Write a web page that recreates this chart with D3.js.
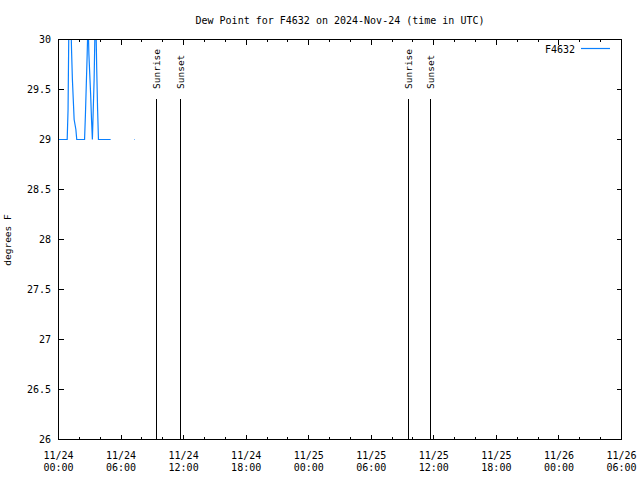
<!DOCTYPE html>
<html><head><meta charset="utf-8">
<script src="https://cdn.jsdelivr.net/npm/d3@7"></script>
<style>body{margin:0;background:#fff}svg{display:block}</style>
</head><body>
<script>
const chartTitle = "Dew Point for F4632 on 2024-Nov-24 (time in UTC)";
const seriesName = "F4632";
const yAxisLabel = "degrees F";
const xDomain = ["2024-11-24T00:00", "2024-11-26T06:00"];
const yDomain = [26, 30];
const yTicks = [26, 26.5, 27, 27.5, 28, 28.5, 29, 29.5, 30];
const yTickLabels = ["26", "26.5", "27", "27.5", "28", "28.5", "29", "29.5", "30"];
const dewTimes = [
  "2024-11-24T00:00", "2024-11-24T00:50", "2024-11-24T00:55", "2024-11-24T01:00",
  "2024-11-24T01:05", "2024-11-24T01:10", "2024-11-24T01:15", "2024-11-24T01:20",
  "2024-11-24T01:25", "2024-11-24T01:30", "2024-11-24T01:40", "2024-11-24T01:45",
  "2024-11-24T02:30", "2024-11-24T02:35", "2024-11-24T02:40", "2024-11-24T02:45",
  "2024-11-24T02:50", "2024-11-24T02:55", "2024-11-24T03:00", "2024-11-24T03:05",
  "2024-11-24T03:10", "2024-11-24T03:15", "2024-11-24T03:20", "2024-11-24T03:25",
  "2024-11-24T03:30", "2024-11-24T03:35", "2024-11-24T03:40", "2024-11-24T03:45",
  "2024-11-24T03:50", "2024-11-24T05:00", "2024-11-24T05:05",
  "2024-11-24T07:16", "2024-11-24T07:19"
];
const dewValues = [
  29, 29, 29.3, 30.2,
  30.6, 30.3, 29.9, 29.6,
  29.4, 29.2, 29.1, 29,
  29, 29.25, 29.55, 29.85,
  30.2, 29.85, 29.65, 29.45,
  29.2, 29.0, 29.3, 29.6,
  30.1, 30.2, 29.7, 29.3,
  29.0, 29, null,
  29, 29
];
const sunLabels = ["Sunrise", "Sunset", "Sunrise", "Sunset"];
const sunTimes = ["2024-11-24T09:24", "2024-11-24T11:42", "2024-11-25T09:34", "2024-11-25T11:38"];

const W = 640, H = 480;
const mLeft = 58.5, mRight = 621.5, mTop = 39.5, mBottom = 439.5;
const color = "#0a80ff";
const font = "'DejaVu Sans Mono', monospace";

const svg = d3.select("body").append("svg").attr("width", W).attr("height", H)
  .style("font-family", font);

const parse = d3.utcParse("%Y-%m-%dT%H:%M");
const x = d3.scaleUtc().domain(xDomain.map(parse)).range([mLeft, mRight]);
const y = d3.scaleLinear().domain(yDomain).range([mBottom, mTop]);

svg.append("defs").append("clipPath").attr("id", "clip")
  .append("rect").attr("x", mLeft).attr("y", mTop).attr("width", mRight - mLeft).attr("height", mBottom - mTop);

const majorX = d3.utcHour.every(6).range(x.domain()[0], new Date(+x.domain()[1] + 1));
const minorX = d3.utcHour.every(2).range(x.domain()[0], new Date(+x.domain()[1] + 1))
  .filter(d => d.getUTCHours() % 6 !== 0);
const tg = svg.append("g").attr("stroke", "#000").attr("shape-rendering", "crispEdges");
majorX.forEach(d => {
  const px = Math.round(x(d) - 0.5) + 0.5;
  tg.append("line").attr("x1", px).attr("x2", px).attr("y1", mBottom).attr("y2", mBottom - 5);
  tg.append("line").attr("x1", px).attr("x2", px).attr("y1", mTop).attr("y2", mTop + 5);
});
minorX.forEach(d => {
  const px = Math.round(x(d) - 0.5) + 0.5;
  tg.append("line").attr("x1", px).attr("x2", px).attr("y1", mBottom).attr("y2", mBottom - 2.5);
  tg.append("line").attr("x1", px).attr("x2", px).attr("y1", mTop).attr("y2", mTop + 2.5);
});
yTicks.forEach(v => {
  const py = Math.round(y(v) - 0.5) + 0.5;
  tg.append("line").attr("x1", mLeft).attr("x2", mLeft + 5).attr("y1", py).attr("y2", py);
  tg.append("line").attr("x1", mRight).attr("x2", mRight - 5).attr("y1", py).attr("y2", py);
});

const fmtD = d3.utcFormat("%m/%d"), fmtT = d3.utcFormat("%H:%M");
const xl = svg.append("g").attr("font-size", "10px").attr("text-anchor", "middle").attr("fill", "#000");
majorX.forEach(d => {
  const t = xl.append("text");
  t.append("tspan").attr("x", x(d)).attr("y", 459).text(fmtD(d));
  t.append("tspan").attr("x", x(d)).attr("y", 471).text(fmtT(d));
});
const yl = svg.append("g").attr("font-size", "10px").attr("text-anchor", "end").attr("fill", "#000");
yTicks.forEach((v, i) => {
  yl.append("text").attr("x", 51).attr("y", y(v)).attr("dy", "0.35em").text(yTickLabels[i]);
});

const sg = svg.append("g");
sunTimes.forEach((s, i) => {
  const px = Math.round(x(parse(s)) - 0.5) + 0.5;
  sg.append("line").attr("x1", px).attr("x2", px).attr("y1", 99).attr("y2", mBottom)
    .attr("stroke", "#000").attr("shape-rendering", "crispEdges");
  sg.append("text").attr("transform", `translate(${px + 3.5},89) rotate(-90)`)
    .attr("font-size", "9.5px").attr("fill", "#000").text(sunLabels[i]);
});

const pts = dewTimes.map((t, i) => ({ t: parse(t), v: dewValues[i] }));
const line = d3.line().defined(d => d.v != null).x(d => x(d.t)).y(d => y(d.v));
svg.append("path").attr("clip-path", "url(#clip)").attr("d", line(pts))
  .attr("fill", "none").attr("stroke", color).attr("stroke-width", 1.2);

svg.append("rect").attr("x", mLeft).attr("y", mTop).attr("width", mRight - mLeft).attr("height", mBottom - mTop)
  .attr("fill", "none").attr("stroke", "#000").attr("shape-rendering", "crispEdges");

svg.append("text").attr("x", (mLeft + mRight) / 2).attr("y", 24).attr("text-anchor", "middle")
  .attr("font-size", "10px").text(chartTitle);

svg.append("text").attr("transform", `translate(11,240) rotate(-90)`).attr("text-anchor", "middle")
  .attr("font-size", "9.5px").text(yAxisLabel);

svg.append("text").attr("x", 575).attr("y", 53).attr("text-anchor", "end").attr("font-size", "10px").text(seriesName);
svg.append("line").attr("x1", 581).attr("x2", 610).attr("y1", 48.5).attr("y2", 48.5)
  .attr("stroke", color).attr("stroke-width", 1.2);
</script>
</body></html>
